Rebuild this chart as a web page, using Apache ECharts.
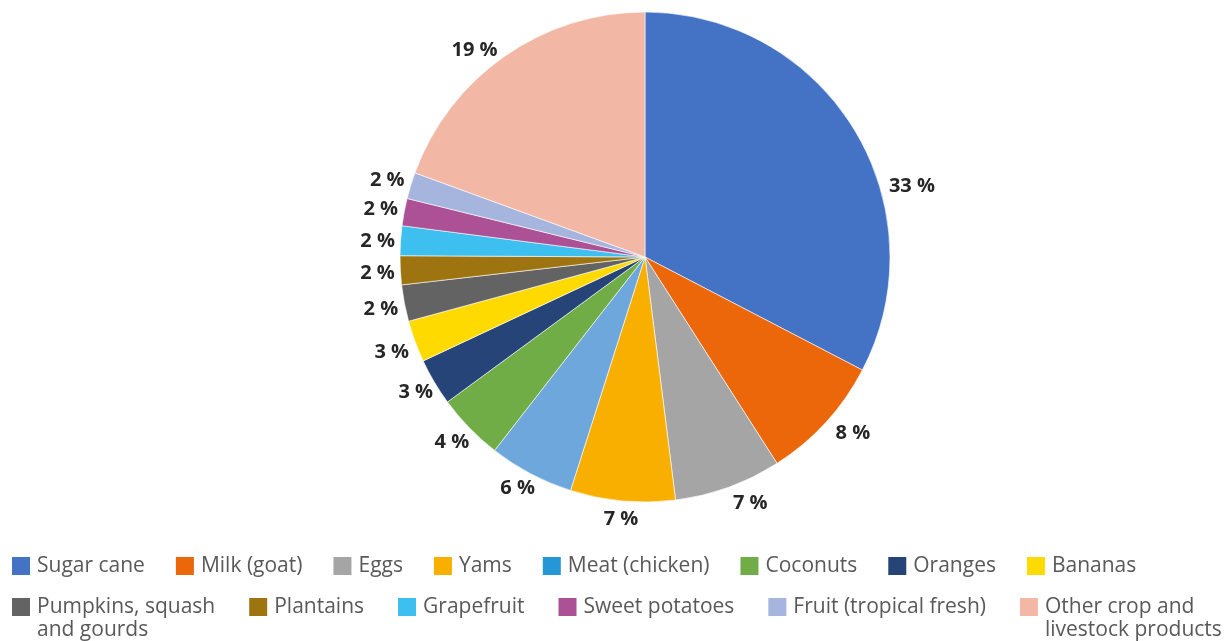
<!DOCTYPE html>
<html>
<head>
<meta charset="utf-8">
<script src="https://cdn.jsdelivr.net/npm/echarts@6/dist/echarts.min.js"></script>
<style>
  html, body { margin: 0; padding: 0; background: #fff; }
  #chart { width: 1228px; height: 641px; }
</style>
</head>
<body>
<div id="chart"></div>
<script>
// share of value by product (%)
const names = [
  "Sugar cane", "Milk (goat)", "Eggs", "Yams", "Meat (chicken)", "Coconuts", "Oranges",
  "Bananas", "Pumpkins, squash and gourds", "Plantains", "Grapefruit", "Sweet potatoes",
  "Fruit (tropical fresh)", "Other crop and livestock products"
];
const values = [32.6, 8.3, 7.06, 6.9, 5.6, 4.4, 3.1, 2.75, 2.4, 1.9, 1.95, 1.8, 1.74, 19.4];
const colors = [
  "#4472c4", "#eb6709", "#a5a5a5", "#f8af00", "#6ea7db", "#70ad47", "#264478",
  "#ffda00", "#636363", "#9e7411", "#3dbfef", "#ad5197", "#a6b5de", "#f3b8a5"
];
// legend swatch for the chicken entry is a stronger blue than its slice
const legendColors = colors.slice();
legendColors[4] = "#2597d6";
// legend text with line breaks as in the picture.
// leading empty line keeps the first line level with the swatch
const legendText = {
  "Pumpkins, squash and gourds": "\nPumpkins, squash\nand gourds",
  "Other crop and livestock products": "\nOther crop and\nlivestock products"
};

const font = "'Open Sans', 'Noto Sans', sans-serif";
const lh = 23.5;
const cx = 645, cy = 257, r = 245;
const labelGap = 5; // gap between pie edge and label box
// excel's own little nudges of some labels [dx, dy]
const labelNudge = {
  0: [32, 70], 1: [9, -8], 2: [15, -5], 4: [-3, -7], 5: [0, -5], 6: [3, -4], 13: [-15, 14]
};

// mid angle of every slice (clockwise from 12 o'clock)
const total = values.reduce(function (a, b) { return a + b; }, 0);
const midAngles = [];
let acc = 0;
values.forEach(function (v) {
  midAngles.push((acc + v / 2) / total * Math.PI * 2);
  acc += v;
});

function legendItems(from, to) {
  return names.slice(from, to).map(function (n, i) {
    return { name: n, itemStyle: { color: legendColors[from + i] } };
  });
}

const legendBase = {
  orient: "horizontal",
  left: 10,
  padding: 0,
  itemWidth: 20,
  itemHeight: 20,
  icon: "rect",
  selectedMode: false,
  formatter: function (n) { return legendText[n] || n; },
  textStyle: { fontFamily: font, fontSize: 21, color: "#595959", lineHeight: lh, padding: [0, 0, 0, 1] }
};

const chart = echarts.init(document.getElementById("chart"));
chart.setOption({
  animation: false,
  color: colors,
  legend: [
    Object.assign({}, legendBase, { top: 566 - lh / 2, itemGap: 29, data: legendItems(0, 8) }),
    Object.assign({}, legendBase, { top: 607 - lh * 1.5, itemGap: 32, data: legendItems(8, 14) })
  ],
  series: [{
    type: "pie",
    center: [cx, cy],
    radius: r,
    startAngle: 90,
    clockwise: true,
    avoidLabelOverlap: false,
    data: names.map(function (n, i) { return { name: n, value: values[i] }; }),
    itemStyle: { borderColor: "#fff", borderWidth: 0.6 },
    label: {
      show: true,
      position: "outside",
      fontFamily: font,
      fontSize: 20,
      fontWeight: "bold",
      color: "#262626",
      formatter: function (p) { return Math.round(p.percent) + " %"; }
    },
    labelLine: { show: false },
    labelLayout: function (p) {
      // label box just outside the slice, on its mid angle
      const a = midAngles[p.dataIndex];
      const sx = Math.sin(a), sy = -Math.cos(a);
      const d = r + labelGap + Math.abs(sx) * p.labelRect.width / 2 + Math.abs(sy) * p.labelRect.height / 2;
      const nudge = labelNudge[p.dataIndex] || [0, 0];
      return {
        x: cx + d * sx + nudge[0],
        y: cy + d * sy + 2 + nudge[1],
        align: "center",
        verticalAlign: "middle"
      };
    },
    emphasis: { disabled: true }
  }]
});
</script>
</body>
</html>
